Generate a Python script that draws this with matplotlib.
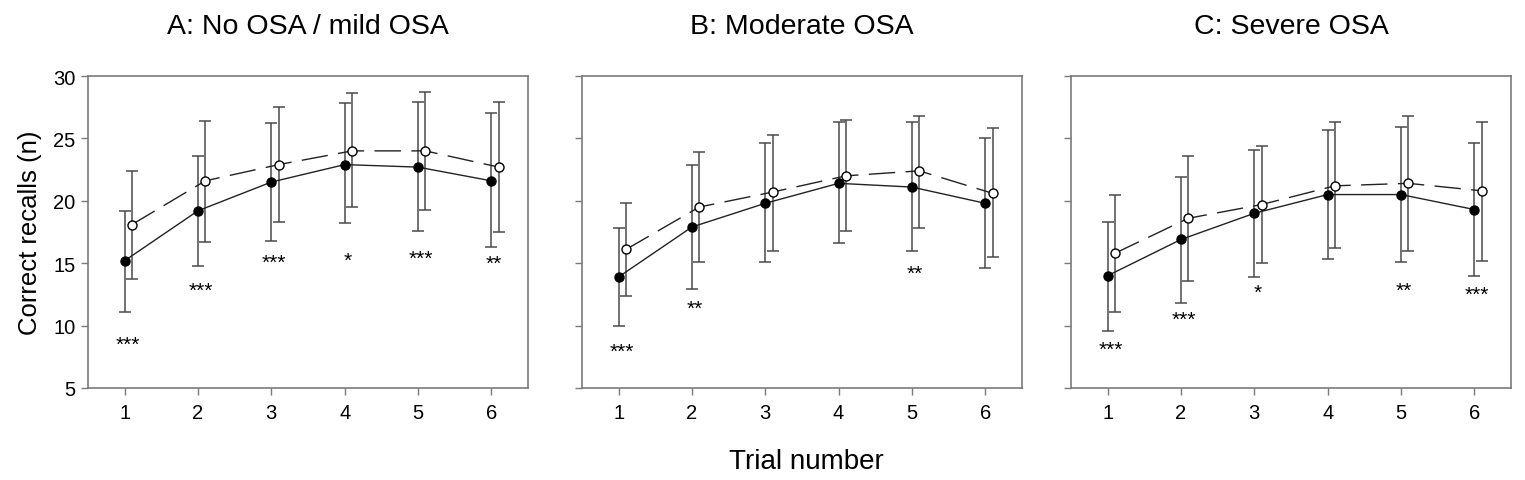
import matplotlib
matplotlib.use('Agg')
import matplotlib.pyplot as plt
import numpy as np

plt.rcParams['font.family'] = ['Liberation Sans', 'DejaVu Sans']

trials = [1, 2, 3, 4, 5, 6]
titles = ['A: No OSA / mild OSA', 'B: Moderate OSA', 'C: Severe OSA']

# filled circles (solid line): mean, upper and lower error bar ends
a_fill = [15.2, 19.2, 21.5, 22.9, 22.7, 21.6]
a_fill_hi = [19.2, 23.6, 26.2, 27.8, 27.9, 27.0]
a_fill_lo = [11.1, 14.8, 16.8, 18.2, 17.6, 16.3]
# open circles (dashed line)
a_open = [18.1, 21.6, 22.9, 24.0, 24.0, 22.7]
a_open_hi = [22.4, 26.4, 27.5, 28.6, 28.7, 27.9]
a_open_lo = [13.7, 16.7, 18.3, 19.5, 19.3, 17.5]

b_fill = [13.9, 17.9, 19.8, 21.4, 21.1, 19.8]
b_fill_hi = [17.8, 22.9, 24.6, 26.3, 26.3, 25.0]
b_fill_lo = [10.0, 12.9, 15.1, 16.6, 16.0, 14.6]
b_open = [16.1, 19.5, 20.7, 22.0, 22.4, 20.6]
b_open_hi = [19.8, 23.9, 25.3, 26.5, 26.8, 25.8]
b_open_lo = [12.4, 15.1, 16.0, 17.6, 17.8, 15.5]

c_fill = [14.0, 16.9, 19.0, 20.5, 20.5, 19.3]
c_fill_hi = [18.3, 21.9, 24.1, 25.7, 25.9, 24.6]
c_fill_lo = [9.6, 11.8, 13.9, 15.3, 15.1, 14.0]
c_open = [15.8, 18.6, 19.7, 21.2, 21.4, 20.8]
c_open_hi = [20.5, 23.6, 24.4, 26.3, 26.8, 26.3]
c_open_lo = [11.1, 13.6, 15.0, 16.2, 16.0, 15.2]

# significance markers: trial, y position, label
a_sig_x = [1, 2, 3, 4, 5, 6]
a_sig_y = [8.5, 12.8, 15.1, 15.2, 15.4, 15.0]
a_sig = ['***', '***', '***', '*', '***', '**']
b_sig_x = [1, 2, 5]
b_sig_y = [7.9, 11.4, 14.2]
b_sig = ['***', '**', '**']
c_sig_x = [1, 2, 3, 5, 6]
c_sig_y = [8.1, 10.5, 12.7, 12.8, 12.5]
c_sig = ['***', '***', '*', '**', '***']

panels = [
    (a_fill, a_fill_hi, a_fill_lo, a_open, a_open_hi, a_open_lo, a_sig_x, a_sig_y, a_sig),
    (b_fill, b_fill_hi, b_fill_lo, b_open, b_open_hi, b_open_lo, b_sig_x, b_sig_y, b_sig),
    (c_fill, c_fill_hi, c_fill_lo, c_open, c_open_hi, c_open_lo, c_sig_x, c_sig_y, c_sig),
]

fig = plt.figure(figsize=(15.25, 4.81), dpi=100)
lefts = [0.0577, 0.3816, 0.7023]
width = 0.2885
bottom, height = 0.1913, 0.6486

spine_col = '#7a7a7a'
err_col = '#4a4a4a'

for i, (fm, fh, fl, om, oh, ol, sx, sy, sl) in enumerate(panels):
    ax = fig.add_axes([lefts[i], bottom, width, height])
    x = np.array(trials, dtype=float)
    xo = x + 0.1
    fm, fh, fl = np.array(fm), np.array(fh), np.array(fl)
    om, oh, ol = np.array(om), np.array(oh), np.array(ol)

    ax.errorbar(x, fm, yerr=[fm - fl, fh - fm], fmt='none', ecolor=err_col,
                elinewidth=1.1, capsize=4.5, capthick=1.1, zorder=2)
    ax.errorbar(xo, om, yerr=[om - ol, oh - om], fmt='none', ecolor=err_col,
                elinewidth=1.1, capsize=4.5, capthick=1.1, zorder=2)
    ax.plot(x, fm, color='#222222', lw=1.0, marker='o', ms=6.5,
            mfc='black', mec='black', zorder=3)
    ax.plot(xo, om, color='#222222', lw=1.0, dashes=(19, 7.5), marker='o', ms=6.5,
            mfc='white', mec='black', mew=1.0, zorder=3)

    for tx, ty, lab in zip(sx, sy, sl):
        ax.text(tx + 0.04, ty, lab, ha='center', va='center', fontsize=15)

    ax.set_xlim(0.5, 6.5)
    ax.set_ylim(5, 30)
    ax.set_xticks(trials)
    ax.set_yticks([5, 10, 15, 20, 25, 30])
    ax.tick_params(direction='out', length=5, width=1, colors=spine_col,
                   labelcolor='black', labelsize=14.5)
    ax.tick_params(axis='x', pad=6)
    ax.tick_params(axis='y', pad=4)
    if i > 0:
        ax.set_yticklabels([])
    for sp in ax.spines.values():
        sp.set_color(spine_col)
        sp.set_linewidth(1.2)
    ax.set_title(titles[i], fontsize=20.5, pad=31)

fig.axes[0].set_ylabel('Correct recalls (n)', fontsize=18.5, labelpad=8)
fig.text(0.5285, 0.04, 'Trial number', ha='center', va='center', fontsize=20)

fig.savefig('out.png', dpi=100, facecolor='white')
